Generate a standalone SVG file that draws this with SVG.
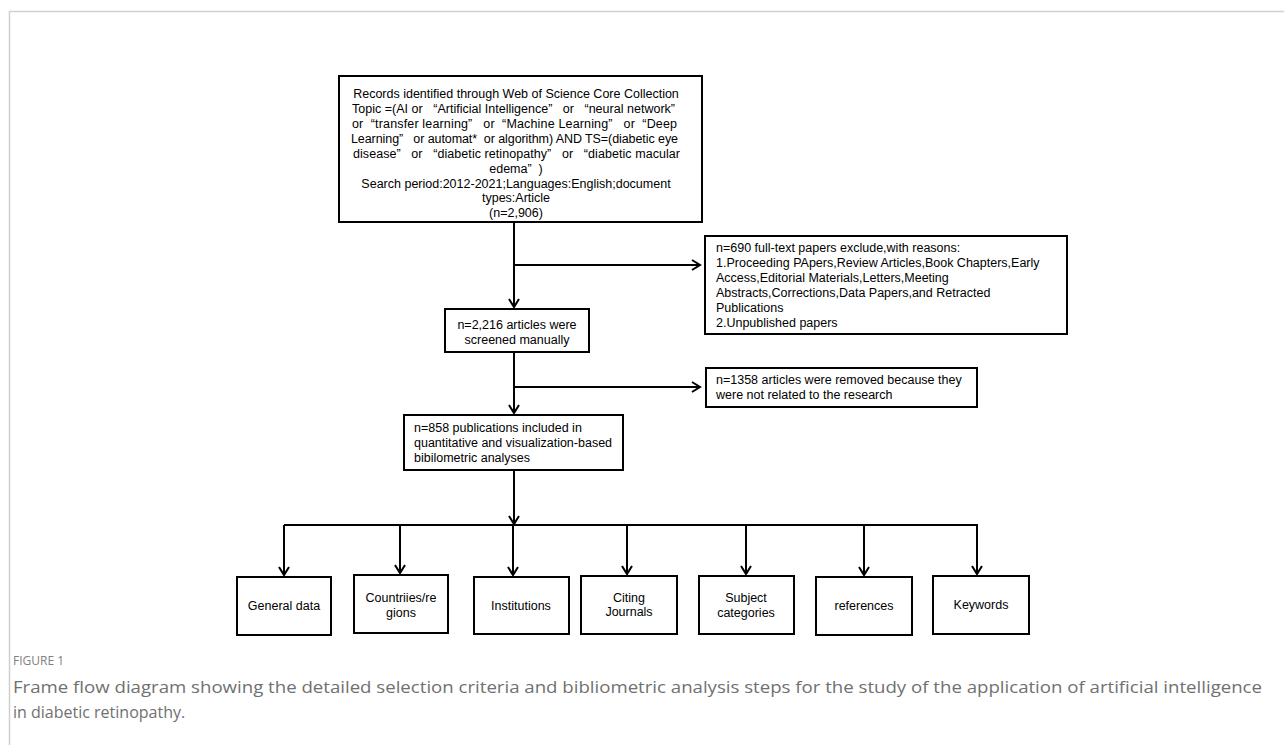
<svg xmlns="http://www.w3.org/2000/svg" width="1284" height="745" viewBox="0 0 1284 745">
<style>
.bx{fill:#fff;stroke:#000;stroke-width:2}
.t{font-family:"Liberation Sans",Arial,sans-serif;font-size:12.5px;fill:#000}
.p{white-space:pre}
.m{text-anchor:middle}
.ln{stroke:#000;stroke-width:2;fill:none}
.cap{font-family:"Open Sans","Noto Sans",sans-serif}
</style>
<defs>
<marker id="ah" markerUnits="userSpaceOnUse" markerWidth="14" markerHeight="14" refX="9" refY="6" orient="auto" overflow="visible">
<path d="M1,1 L9,6 L1,11" fill="none" stroke="#000" stroke-width="2"/>
</marker>
</defs>
<rect x="9.5" y="11.5" width="1300" height="800" fill="#fff" stroke="#d0d0d0" stroke-width="1.5"/>

<g id="connectors">
<path class="ln" d="M514,222 V307" marker-end="url(#ah)"/>
<path class="ln" d="M514,265 H700" marker-end="url(#ah)"/>
<path class="ln" d="M514,352 V413" marker-end="url(#ah)"/>
<path class="ln" d="M514,387 H700" marker-end="url(#ah)"/>
<path class="ln" d="M514,470 V524" marker-end="url(#ah)"/>
<path class="ln" d="M284,525 H978"/>
<path class="ln" d="M284,525 V575" marker-end="url(#ah)"/>
<path class="ln" d="M400,525 V573" marker-end="url(#ah)"/>
<path class="ln" d="M513,525 V575" marker-end="url(#ah)"/>
<path class="ln" d="M627,525 V574" marker-end="url(#ah)"/>
<path class="ln" d="M746,525 V574" marker-end="url(#ah)"/>
<path class="ln" d="M864,525 V575" marker-end="url(#ah)"/>
<path class="ln" d="M977,525 V574" marker-end="url(#ah)"/>
</g>

<g id="n_records">
<rect class="bx" x="339" y="76" width="363" height="146"/>
<text class="t m" x="516" y="97.5">Records identified through Web of Science Core Collection</text>
<text class="t p" xml:space="preserve" x="352" y="112.5" textLength="323" lengthAdjust="spacing">Topic =(AI or   “Artificial Intelligence”   or   “neural network”</text>
<text class="t p" xml:space="preserve" x="352" y="127.5" textLength="325" lengthAdjust="spacing">or  “transfer learning”   or  “Machine Learning”   or  “Deep</text>
<text class="t p" xml:space="preserve" x="351" y="142.5" textLength="327" lengthAdjust="spacing">Learning”   or automat*  or algorithm) AND TS=(diabetic eye</text>
<text class="t p" xml:space="preserve" x="353" y="157.5" textLength="327" lengthAdjust="spacing">disease”   or   “diabetic retinopathy”   or   “diabetic macular</text>
<text class="t m p" xml:space="preserve" x="516" y="172.5">edema”  )</text>
<text class="t m" x="516" y="187.5">Search period:2012-2021;Languages:English;document</text>
<text class="t m" x="516" y="202">types:Article</text>
<text class="t m" x="516" y="216.5">(n=2,906)</text>
</g>

<g id="n_exclude">
<rect class="bx" x="705" y="236" width="362" height="98"/>
<text class="t" x="716" y="251.5">n=690 full-text papers exclude,with reasons:</text>
<text class="t" x="716" y="266.5">1.Proceeding PApers,Review Articles,Book Chapters,Early</text>
<text class="t" x="716" y="281.5">Access,Editorial Materials,Letters,Meeting</text>
<text class="t" x="716" y="296.5">Abstracts,Corrections,Data Papers,and Retracted</text>
<text class="t" x="716" y="311.5">Publications</text>
<text class="t" x="716" y="326.5">2.Unpublished papers</text>
</g>

<g id="n_screened">
<rect class="bx" x="445" y="309" width="144" height="43"/>
<text class="t m" x="517" y="329">n=2,216 articles were</text>
<text class="t m" x="517" y="343.5">screened manually</text>
</g>

<g id="n_removed">
<rect class="bx" x="706" y="368" width="271" height="39"/>
<text class="t" x="716" y="384">n=1358 articles were removed because they</text>
<text class="t" x="716" y="399">were not related to the research</text>
</g>

<g id="n_included">
<rect class="bx" x="404" y="415" width="219" height="55"/>
<text class="t" x="414" y="432">n=858 publications included in</text>
<text class="t" x="414" y="447">quantitative and visualization-based</text>
<text class="t" x="414" y="462">bibilometric analyses</text>
</g>

<g id="n_general">
<rect class="bx" x="237" y="577" width="94" height="58"/>
<text class="t m" x="284" y="610">General data</text>
</g>
<g id="n_countries">
<rect class="bx" x="354" y="575" width="94" height="58"/>
<text class="t m" x="401" y="601.5">Countriies/re</text>
<text class="t m" x="401" y="616.5">gions</text>
</g>
<g id="n_institutions">
<rect class="bx" x="474" y="577" width="95" height="57"/>
<text class="t m" x="521" y="610">Institutions</text>
</g>
<g id="n_citing">
<rect class="bx" x="581" y="576" width="96" height="58"/>
<text class="t m" x="629" y="601.5">Citing</text>
<text class="t m" x="629" y="616">Journals</text>
</g>
<g id="n_subject">
<rect class="bx" x="699" y="576" width="95" height="58"/>
<text class="t m" x="746" y="601.5">Subject</text>
<text class="t m" x="746" y="616.5">categories</text>
</g>
<g id="n_references">
<rect class="bx" x="816" y="577" width="96" height="58"/>
<text class="t m" x="864" y="610">references</text>
</g>
<g id="n_keywords">
<rect class="bx" x="933" y="576" width="96" height="58"/>
<text class="t m" x="981" y="609">Keywords</text>
</g>

<g id="caption">
<text class="cap" x="13" y="665" font-size="12" fill="#808080">FIGURE 1</text>
<text class="cap" x="13" y="693" font-size="16" fill="#707070" textLength="1249" lengthAdjust="spacingAndGlyphs">Frame flow diagram showing the detailed selection criteria and bibliometric analysis steps for the study of the application of artificial intelligence</text>
<text class="cap" x="13" y="718" font-size="16" fill="#707070">in diabetic retinopathy.</text>
</g>
</svg>
